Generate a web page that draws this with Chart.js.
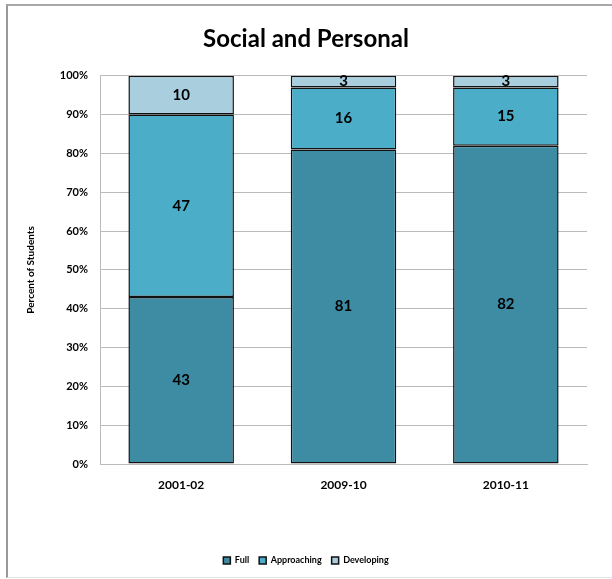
<!DOCTYPE html>
<html>
<head>
<meta charset="utf-8">
<script src="https://cdn.jsdelivr.net/npm/chart.js@4.4.0/dist/chart.umd.min.js"></script>
<style>
  html, body { margin: 0; padding: 0; background: #fff; overflow: hidden; width: 612px; height: 579px; }
  #wrap { position: absolute; left: 0; top: 0; width: 612px; height: 579px; overflow: hidden; }
  #frame { position: absolute; left: 6px; top: 4px; width: 606px; height: 574px;
           border-left: 2px solid #9a9a9a; border-top: 2px solid #a8a8a8; border-bottom: 1px solid #e4e4e4; box-sizing: border-box; pointer-events: none; }
  canvas { position: absolute; left: 0; top: 0; }
</style>
</head>
<body>
<div id="wrap">
  <canvas id="c" width="612" height="579"></canvas>
  <div id="frame"></div>
</div>
<script>
const categories = ["2001-02", "2009-10", "2010-11"];
const fullValues = [43, 81, 82];
const approachingValues = [47, 16, 15];
const developingValues = [10, 3, 3];
const yTickLabels = ["0%","10%","20%","30%","40%","50%","60%","70%","80%","90%","100%"];

const FONT = "Lato, 'Open Sans', sans-serif";

const valueLabels = {
  id: 'valueLabels',
  afterDatasetsDraw(chart) {
    const ctx = chart.ctx;
    ctx.save();
    ctx.font = "bold 15px " + FONT;
    ctx.fillStyle = "#000";
    ctx.textAlign = "center";
    ctx.textBaseline = "middle";
    chart.data.datasets.forEach((ds, i) => {
      const meta = chart.getDatasetMeta(i);
      meta.data.forEach((el, j) => {
        const mid = (el.y + el.base) / 2;
        ctx.fillText(String(ds.data[j]), el.x, mid);
      });
    });
    ctx.restore();
  }
};

new Chart(document.getElementById('c'), {
  type: 'bar',
  data: {
    labels: categories,
    datasets: [
      { label: 'Full', data: fullValues, backgroundColor: '#3d8ca4', borderColor: '#111', borderWidth: 1.5, borderSkipped: false },
      { label: 'Approaching', data: approachingValues, backgroundColor: '#4badc7', borderColor: '#111', borderWidth: 1.5, borderSkipped: false },
      { label: 'Developing', data: developingValues, backgroundColor: '#a9cfde', borderColor: '#111', borderWidth: 1.5, borderSkipped: false }
    ]
  },
  options: {
    responsive: false,
    animation: false,
    layout: { padding: { left: 0, right: 0, top: 0, bottom: 4 } },
    datasets: { bar: { barPercentage: 0.65, categoryPercentage: 1.0 } },
    plugins: {
      title: { display: true, text: 'Social and Personal', color: '#000',
               font: { family: FONT, size: 24, weight: 'bold' }, padding: { top: 25, bottom: 22 } },
      legend: { position: 'bottom',
                labels: { color: '#000', font: { family: FONT, size: 9, weight: 'bold' },
                          boxWidth: 7, boxHeight: 7, padding: 10 } },
      tooltip: { enabled: false }
    },
    scales: {
      x: {
        stacked: true,
        grid: { display: false },
        border: { color: '#bbb', width: 1 },
        ticks: { color: '#000', font: { family: FONT, size: 12, weight: 'bold' }, padding: 6 },
        afterFit(s) { s.height = 82; }
      },
      y: {
        stacked: true, min: 0, max: 100,
        ticks: { stepSize: 10, color: '#000', font: { family: FONT, size: 11, weight: 'bold' }, padding: 12,
                 callback: (v) => yTickLabels[Math.round(v / 10)] },
        grid: { color: '#bbb', drawTicks: false },
        border: { color: '#bbb', width: 1 },
        title: { display: true, text: 'Percent of Students', color: '#000',
                 font: { family: FONT, size: 10, weight: 'bold' }, padding: { top: 25, bottom: 0 } },
        afterFit(s) { s.width = 100; }
      },
      yRight: {
        position: 'right', display: true,
        grid: { display: false }, border: { display: false },
        ticks: { display: false },
        afterFit(s) { s.width = 25; }
      }
    }
  },
  plugins: [valueLabels]
});
</script>
</body>
</html>
